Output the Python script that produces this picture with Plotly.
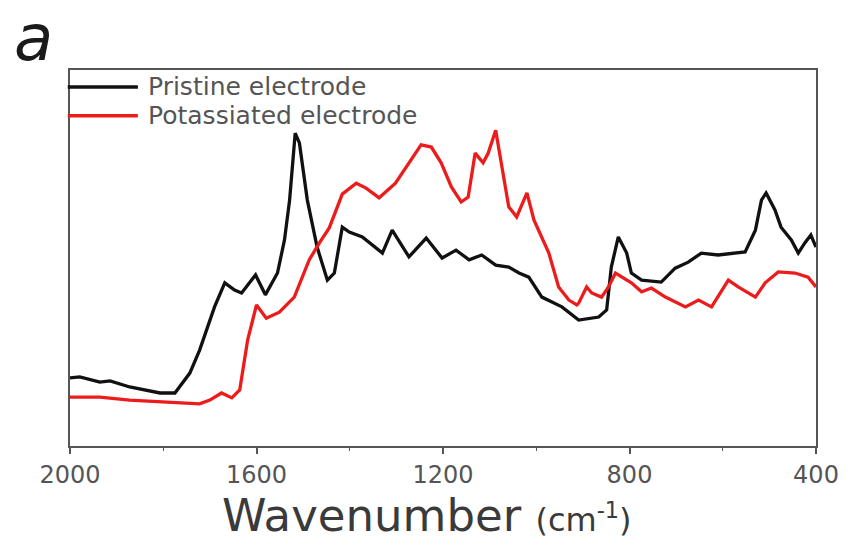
import plotly.graph_objects as go

# Wavenumber (cm^-1) and intensity (a.u.)
pristine_wn = [2000, 1979, 1936, 1914, 1872, 1807, 1775, 1743, 1722, 1690, 1668, 1647, 1632,
               1602, 1581, 1555, 1540, 1529, 1517, 1508, 1491, 1470, 1448, 1433, 1416, 1401,
               1373, 1330, 1309, 1273, 1236, 1202, 1172, 1144, 1117, 1087, 1059, 1037, 1016,
               988, 945, 916, 909, 866, 849, 839, 824, 806, 796, 774, 732, 702, 674, 646, 610,
               552, 530, 517, 507, 488, 475, 453, 438, 424, 411, 400]
pristine_int = [18.1, 18.4, 17.0, 17.3, 15.7, 14.1, 14.1, 19.4, 25.5, 37.0, 43.4, 41.5, 40.7,
                45.5, 40.2, 46.0, 54.8, 65.4, 83.2, 80.6, 65.4, 52.9, 44.1, 46.0, 58.2, 56.9,
                55.6, 51.3, 57.4, 50.3, 55.3, 50.0, 52.1, 49.5, 50.8, 48.1, 47.6, 46.0, 44.9,
                39.6, 37.0, 34.3, 33.5, 34.3, 36.2, 47.6, 55.6, 51.3, 46.0, 44.1, 43.6, 47.3,
                48.9, 51.3, 50.8, 51.6, 57.4, 65.4, 67.3, 62.8, 58.2, 54.8, 51.3, 54.0, 56.1, 52.9]

potass_wn = [2000, 1936, 1872, 1785, 1722, 1700, 1675, 1653, 1636, 1619, 1600, 1579, 1551,
             1519, 1487, 1465, 1444, 1416, 1386, 1365, 1337, 1302, 1268, 1247, 1225, 1204,
             1182, 1161, 1146, 1131, 1114, 1103, 1087, 1074, 1059, 1042, 1020, 1005, 988,
             973, 952, 930, 913, 909, 892, 881, 860, 845, 830, 796, 774, 753, 723, 680, 652,
             624, 588, 567, 530, 509, 481, 445, 417, 400]
potass_int = [13.0, 13.0, 12.2, 11.7, 11.2, 12.2, 14.1, 12.8, 14.9, 28.2, 37.5, 34.0, 35.6,
              39.6, 49.5, 54.0, 58.0, 67.0, 69.9, 68.6, 66.0, 69.9, 76.1, 80.1, 79.5, 75.3,
              68.9, 64.9, 66.2, 77.9, 75.3, 77.9, 84.0, 74.2, 63.6, 60.9, 67.3, 60.1, 55.6,
              51.3, 42.3, 38.8, 37.5, 38.0, 42.3, 40.7, 39.6, 42.3, 46.0, 43.4, 41.0, 42.0,
              39.6, 37.0, 38.8, 37.0, 44.1, 42.3, 39.6, 43.4, 46.3, 46.0, 44.9, 42.3]

series_names = ["Pristine electrode", "Potassiated electrode"]
series_colors = ["#111111", "#ec1c1c"]
x_ticks = [2000, 1600, 1200, 800, 400]
x_ticklabels = ["2000", "1600", "1200", "800", "400"]

FONT = "DejaVu Sans"
GREY = "#555555"

fig = go.Figure()
fig.add_trace(go.Scatter(x=pristine_wn, y=pristine_int, mode="lines", name=series_names[0],
                         line=dict(color=series_colors[0], width=3.3), showlegend=False))
fig.add_trace(go.Scatter(x=potass_wn, y=potass_int, mode="lines", name=series_names[1],
                         line=dict(color=series_colors[1], width=3.3), showlegend=False))

# Manual legend (long line samples as in the reference)
legend_y = [0.955, 0.878]
for name, color, ly in zip(series_names, series_colors, legend_y):
    fig.add_shape(type="line", xref="paper", yref="paper", x0=-0.003, x1=0.091, y0=ly, y1=ly,
                  line=dict(color=color, width=3.5))
    fig.add_annotation(x=0.102, y=ly, xref="paper", yref="paper", text=name, showarrow=False,
                       xanchor="left", yanchor="middle",
                       font=dict(family=FONT, size=25, color=GREY))

# Panel label
fig.add_annotation(x=-0.078, y=1.085, xref="paper", yref="paper", text="<i>a</i>",
                   showarrow=False, xanchor="left", yanchor="middle",
                   font=dict(family=FONT, size=64, color="#1a1a1a"))

# Axis title
fig.add_annotation(x=0.478, y=-0.185, xref="paper", yref="paper",
                   text="Wavenumber <span style='font-size:32px'>(cm<sup>-1</sup>)</span>",
                   showarrow=False, xanchor="center", yanchor="middle",
                   font=dict(family=FONT, size=45, color="#3a3a3a"))

fig.update_xaxes(range=[2000, 400], tickvals=x_ticks, ticktext=x_ticklabels,
                 ticks="outside", ticklen=6, tickwidth=1.5, tickcolor=GREY,
                 minor=dict(tickvals=[1800, 1400, 1000, 600], ticks="outside", ticklen=3,
                            tickcolor=GREY, tickwidth=1.2),
                 showline=True, linecolor=GREY, linewidth=1.5, mirror=True,
                 showgrid=False, zeroline=False,
                 tickfont=dict(family=FONT, size=24, color=GREY))
fig.update_yaxes(range=[0, 100], showticklabels=False, ticks="",
                 showline=True, linecolor=GREY, linewidth=1.5, mirror=True,
                 showgrid=False, zeroline=False)

fig.update_layout(width=851, height=545, margin=dict(l=70, r=33, t=70, b=99),
                  paper_bgcolor="white", plot_bgcolor="white", showlegend=False)

fig.write_html("out.html")
